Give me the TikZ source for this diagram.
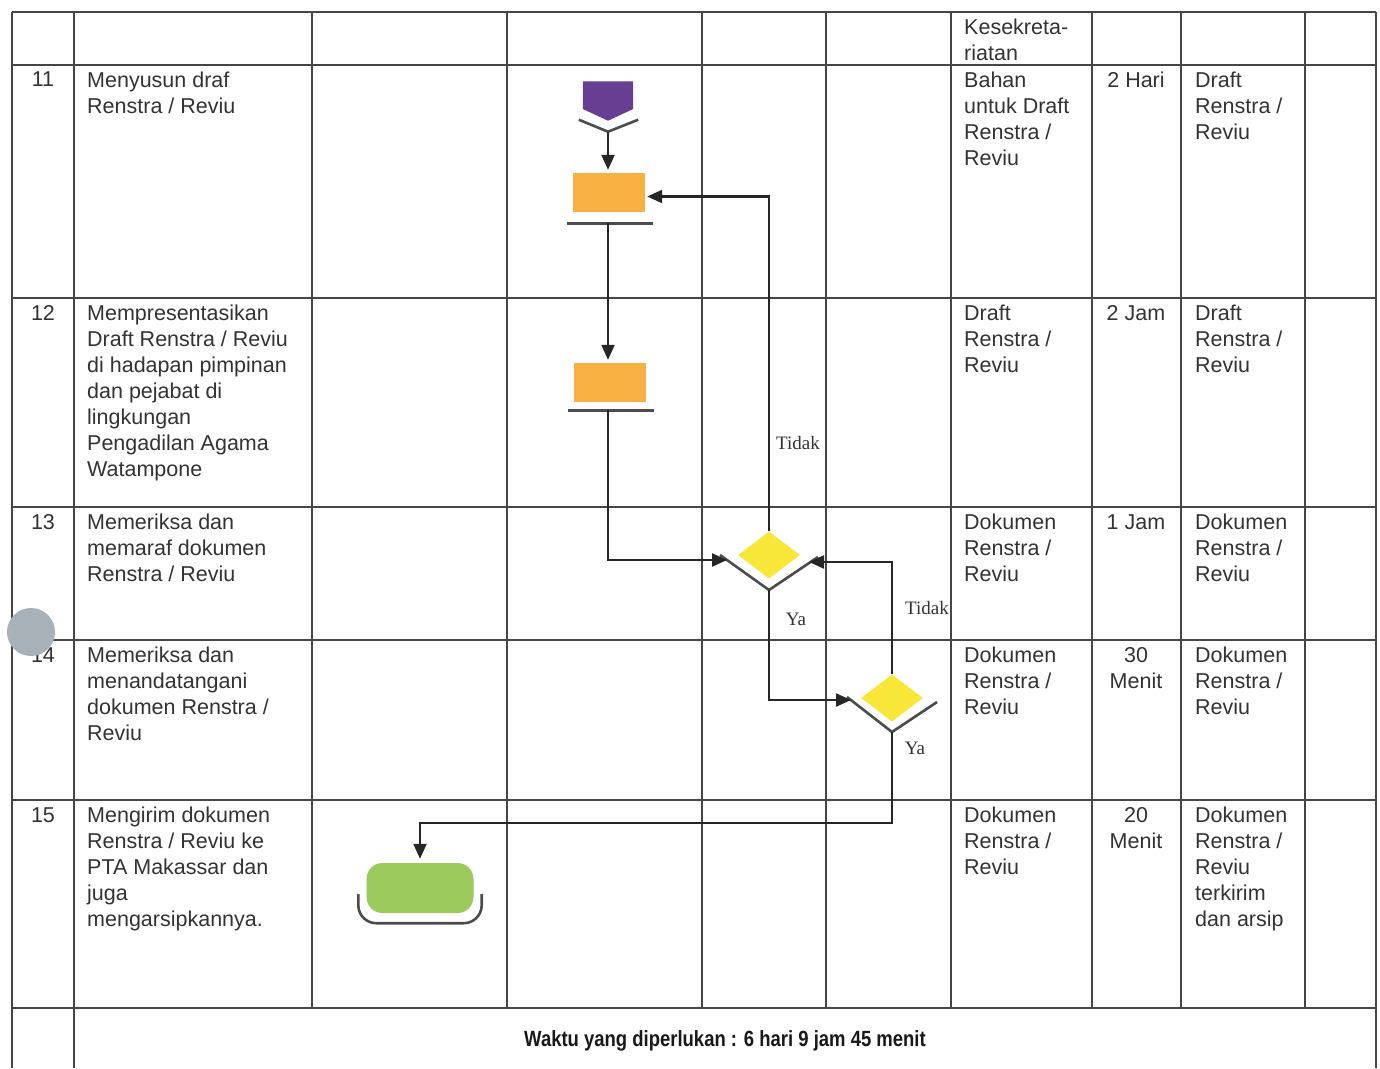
\documentclass[tikz,border=0pt]{standalone}
\usepackage{fontspec}
\setmainfont{Liberation Sans}
\newfontfamily\lblfont{Liberation Serif}
\usetikzlibrary{calc, positioning, arrows.meta, shapes.geometric}
\definecolor{procorange}{RGB}{248,176,66}
\definecolor{startpurple}{RGB}{104,62,146}
\definecolor{decyellow}{RGB}{248,230,56}
\definecolor{endgreen}{RGB}{156,201,92}
\definecolor{gridgray}{RGB}{70,70,70}
\definecolor{punchgray}{RGB}{168,176,184}

\begin{document}
\begin{tikzpicture}[x=1pt, y=-1pt,
    grid/.style={draw=gridgray, line width=1.6pt},
    cell/.style={anchor=north west, inner sep=0pt, align=left,
      font=\fontsize{21.5}{26}\selectfont, text=black!80},
    num/.style={anchor=north, inner sep=0pt, align=center,
      font=\fontsize{21.5}{26}\selectfont, text=black!80},
    proc/.style={fill=procorange, minimum width=72pt, minimum height=39pt, inner sep=0pt},
    dec/.style={diamond, fill=decyellow, minimum width=62pt, minimum height=47pt, inner sep=0pt},
    term/.style={fill=endgreen, rounded corners=16pt, minimum width=107pt,
      minimum height=50pt, inner sep=0pt},
    shade/.style={draw=black!70, line width=2.6pt},
    flow/.style={draw=black!85, line width=2.2pt, -{Triangle[length=15pt, width=13pt]}},
    lbl/.style={font=\lblfont\fontsize{19}{21}\selectfont, inner sep=0pt, text=black!80},
  ]
    \fill[white] (0,0) rectangle (1380,1068);

    % table grid
    \foreach \y in {12,65,298,507,640,800,1008}
      \draw[grid] (12,\y) -- (1376,\y);
    \foreach \x in {312,507,702,826,951,1092,1181,1305}
      \draw[grid] (\x,12) -- (\x,1008);
    \foreach \x in {12,74,1376}
      \draw[grid] (\x,12) -- (\x,1068);

    % header
    \node[cell] (h7) at (964,19) {Kesekreta-\\riatan};

    % row 11
    \node[num] (n11) at (43,72) {11};
    \node[cell] (k11) at (87,72) {Menyusun draf\\Renstra / Reviu};
    \node[cell] (m11) at (964,72) {Bahan\\untuk Draft\\Renstra /\\Reviu};
    \node[num] (w11) at (1136,72) {2 Hari};
    \node[cell] (o11) at (1195,72) {Draft\\Renstra /\\Reviu};

    % row 12
    \node[num] (n12) at (43,305) {12};
    \node[cell] (k12) at (87,305) {Mempresentasikan\\Draft Renstra / Reviu\\di hadapan pimpinan\\dan pejabat di\\lingkungan\\Pengadilan Agama\\Watampone};
    \node[cell] (m12) at (964,305) {Draft\\Renstra /\\Reviu};
    \node[num] (w12) at (1136,305) {2 Jam};
    \node[cell] (o12) at (1195,305) {Draft\\Renstra /\\Reviu};

    % row 13
    \node[num] (n13) at (43,514) {13};
    \node[cell] (k13) at (87,514) {Memeriksa dan\\memaraf dokumen\\Renstra / Reviu};
    \node[cell] (m13) at (964,514) {Dokumen\\Renstra /\\Reviu};
    \node[num] (w13) at (1136,514) {1 Jam};
    \node[cell] (o13) at (1195,514) {Dokumen\\Renstra /\\Reviu};

    % row 14
    \node[num] (n14) at (43,647) {14};
    \node[cell] (k14) at (87,647) {Memeriksa dan\\menandatangani\\dokumen Renstra /\\Reviu};
    \node[cell] (m14) at (964,647) {Dokumen\\Renstra /\\Reviu};
    \node[num] (w14) at (1136,647) {30\\Menit};
    \node[cell] (o14) at (1195,647) {Dokumen\\Renstra /\\Reviu};

    % row 15
    \node[num] (n15) at (43,807) {15};
    \node[cell] (k15) at (87,807) {Mengirim dokumen\\Renstra / Reviu ke\\PTA Makassar dan\\juga\\mengarsipkannya.};
    \node[cell] (m15) at (964,807) {Dokumen\\Renstra /\\Reviu};
    \node[num] (w15) at (1136,807) {20\\Menit};
    \node[cell] (o15) at (1195,807) {Dokumen\\Renstra /\\Reviu\\terkirim\\dan arsip};

    % footer
    \node[font=\bfseries\fontsize{22}{24}\selectfont, text=black!90] (total) at (725,1041)
      {\scalebox{0.84}[1]{Waktu yang diperlukan : 6 hari 9 jam 45 menit}};

    % punch hole
    \fill[punchgray] (31,632) circle (24pt);

    % flow shapes
    \node[minimum width=50pt, minimum height=39pt, inner sep=0pt] (st) at (608,101) {};
    \fill[startpurple] (st.north west) -- (st.north east) -- ($(st.east)+(0,8)$)
      -- (st.south) -- ($(st.west)+(0,8)$) -- cycle;
    \draw[shade] ($(st.south west)+(-4,-1)$) -- ($(st.south)+(0,11)$) -- ($(st.south east)+(5,-1)$);

    \node[proc] (p1) at (609,192.5) {};
    \draw[shade] ($(p1.south west)+(-6,11)$) -- ($(p1.south east)+(8,11)$);
    \node[proc] (p2) at (610,382.5) {};
    \draw[shade] ($(p2.south west)+(-6,8)$) -- ($(p2.south east)+(8,8)$);

    \node[dec] (d1) at (769,555) {};
    \draw[shade] ($(d1)+(-49,0)$) -- ($(d1)+(0,35)$) -- ($(d1)+(49,2)$);
    \node[dec] (d2) at (892,698) {};
    \draw[shade] ($(d2)+(-45,-1)$) -- ($(d2)+(0,34)$) -- ($(d2)+(45,4)$);

    \node[term] (end) at (420,888) {};
    \draw[shade, rounded corners=18pt] ($(end.west)+(-8,6)$) -- ($(end.south west)+(-8,10)$)
      -- ($(end.south east)+(8,10)$) -- ($(end.east)+(8,6)$);

    \coordinate (stc) at ($(st.south)+(0,11)$);
    \coordinate (p1s) at ($(p1.south)+(-1,11)$);
    \coordinate (p2s) at ($(p2.south)+(-2,8)$);
    \coordinate (d1c) at ($(d1)+(0,35)$);
    \coordinate (d1l) at ($(d1)+(-42,5)$);
    \coordinate (d1r) at ($(d1)+(40,7)$);
    \coordinate (d2c) at ($(d2)+(0,34)$);
    \coordinate (d2l) at ($(d2)+(-41,2)$);

    % connectors
    \draw[flow, shorten >=3pt] (stc) -- (stc |- p1.north);
    \draw[flow, shorten >=3pt] (p1s) -- (p1s |- p2.north);
    \draw[flow] (p2s) |- (d1l);
    \draw[flow, shorten >=2pt] (d1.north) |- ($(p1.east)+(0,4)$);
    \draw[flow] (d1c) |- (d2l);
    \draw[flow] (d2.north) |- (d1r);
    \draw[flow, shorten >=4pt] (d2c) -- ++(0,91) -| (end);

    % branch labels
    \node[lbl] (tidak1) at (798,443) {Tidak};
    \node[lbl] (ya1) at (796,619) {Ya};
    \node[lbl] (tidak2) at (927,608) {Tidak};
    \node[lbl] (ya2) at (915,748) {Ya};
  \end{tikzpicture}
\end{document}
